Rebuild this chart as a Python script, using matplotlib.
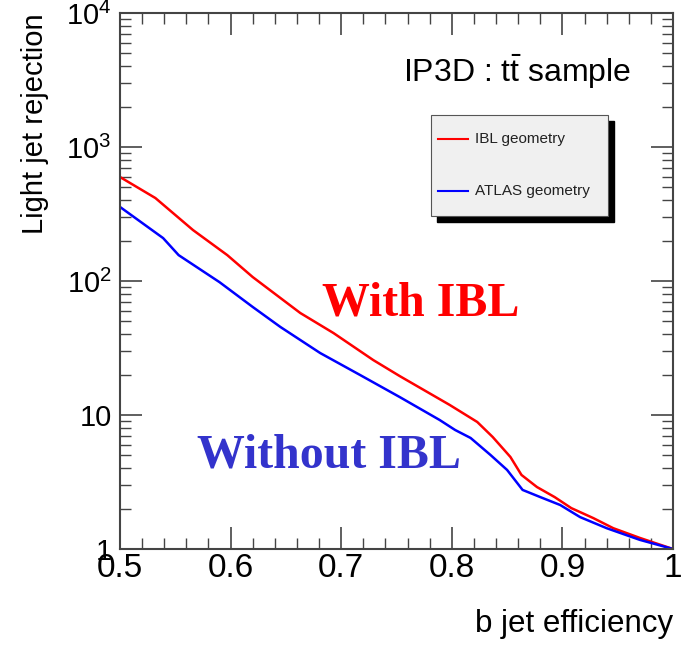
import matplotlib
matplotlib.use("Agg")
import matplotlib.pyplot as plt
from matplotlib.patches import Rectangle
from matplotlib.ticker import MultipleLocator, NullFormatter

plt.rcParams['font.family'] = ['Liberation Sans', 'DejaVu Sans']
plt.rcParams['mathtext.fontset'] = 'custom'
plt.rcParams['mathtext.rm'] = 'Liberation Sans'
plt.rcParams['mathtext.it'] = 'Liberation Sans'

# courbes
eff_ibl = [0.500, 0.532, 0.566, 0.597, 0.620, 0.663, 0.693, 0.729, 0.753, 0.798,
           0.823, 0.837, 0.853, 0.863, 0.877, 0.893, 0.908, 0.928, 0.946, 0.970, 1.0]
rej_ibl = [597, 416, 240, 156, 107, 57.7, 40.9, 25.7, 19.5, 11.9,
           8.87, 6.85, 4.86, 3.57, 2.90, 2.44, 2.02, 1.70, 1.43, 1.21, 1.0]

eff_atlas = [0.500, 0.539, 0.553, 0.590, 0.620, 0.645, 0.681, 0.717, 0.753, 0.789,
             0.803, 0.817, 0.835, 0.850, 0.864, 0.880, 0.898, 0.916, 0.940, 0.970, 1.0]
rej_atlas = [357, 209, 156, 98, 64, 45.4, 29, 19.9, 13.6, 9.18,
             7.73, 6.74, 5.03, 3.89, 2.76, 2.44, 2.13, 1.73, 1.43, 1.17, 1.0]

fig = plt.figure(figsize=(6.81, 6.46), dpi=100)
ax = fig.add_axes([120 / 681, 1 - 549 / 646, 553 / 681, 536 / 646])

ax.plot(eff_ibl, rej_ibl, color='#ff0000', lw=1.8)
ax.plot(eff_atlas, rej_atlas, color='#0000ff', lw=1.8)

ax.set_xlim(0.5, 1.0)
ax.set_yscale('log')
ax.set_ylim(1, 1e4)

ax.set_xticks([0.5, 0.6, 0.7, 0.8, 0.9, 1.0])
ax.set_xticklabels(['0.5', '0.6', '0.7', '0.8', '0.9', '1'])
ax.xaxis.set_minor_locator(MultipleLocator(0.02))
ax.set_yticks([1, 10, 100, 1000, 10000])
ax.set_yticklabels(['1', '10', r'$10^2$', r'$10^3$', r'$10^4$'])
ax.yaxis.set_minor_formatter(NullFormatter())

ax.tick_params(which='both', direction='in', top=True, right=True, color='#444444')
ax.tick_params(which='major', length=16, width=1.2)
ax.tick_params(which='minor', length=8, width=1.0)
ax.tick_params(axis='x', which='major', labelsize=24, pad=3)
ax.tick_params(axis='y', which='major', labelsize=21, pad=6)
for s in ax.spines.values():
    s.set_color('#444444')
    s.set_linewidth(1.5)

ax.set_xlabel('b jet efficiency', fontsize=22.5, loc='right')
ax.xaxis.set_label_coords(1.0, -0.112)
ax.set_ylabel('Light jet rejection', fontsize=21, loc='top')
ax.yaxis.set_label_coords(-0.128, 1.0)

ax.text((403 - 120) / 553, (549 - 72) / 536, r'IP3D : t$\bar{\mathrm{t}}$ sample',
        transform=ax.transAxes, fontsize=23, ha='left', va='center')

# boite de legende avec ombre, style ROOT
bx, by, bw, bh = (431 - 120) / 553, (549 - 216) / 536, 177 / 553, 101 / 536
ax.add_patch(Rectangle((bx + 6 / 553, by - 6 / 536), bw, bh, transform=ax.transAxes,
                       facecolor='black', edgecolor='black', zorder=4, clip_on=False))
ax.add_patch(Rectangle((bx, by), bw, bh, transform=ax.transAxes,
                       facecolor='#f0f0f0', edgecolor='#555555', lw=0.8, zorder=5, clip_on=False))
for yy, col, lab in [(139, '#ff0000', 'IBL geometry'), (191, '#0000ff', 'ATLAS geometry')]:
    yt = (549 - yy) / 536
    ax.plot([(438 - 120) / 553, (468 - 120) / 553], [yt, yt], transform=ax.transAxes,
            color=col, lw=1.5, zorder=6)
    ax.text((475 - 120) / 553, yt, lab, transform=ax.transAxes, fontsize=11,
            ha='left', va='center', color='#222222', zorder=6)

ax.text((322 - 120) / 553, (549 - 304) / 536, 'With IBL', transform=ax.transAxes,
        color='#ff0000', fontsize=34.5, fontweight='bold', family='Liberation Serif',
        ha='left', va='center')
ax.text((197 - 120) / 553, (549 - 455) / 536, 'Without IBL', transform=ax.transAxes,
        color='#3333cc', fontsize=34.5, fontweight='bold', family='Liberation Serif',
        ha='left', va='center')

fig.savefig('out.png', dpi=100)
